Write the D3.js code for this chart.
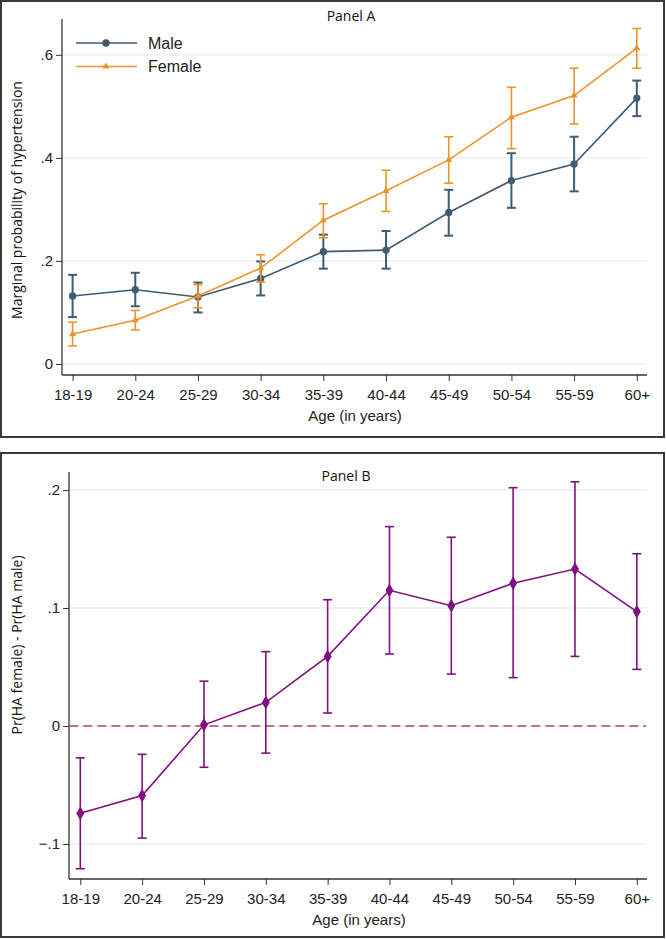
<!DOCTYPE html>
<html>
<head>
<meta charset="utf-8">
<script src="https://cdn.jsdelivr.net/npm/d3@7"></script>
<style>
  body { margin: 0; background: #fff; }
  .tick text, .narrow { font-family: 'Liberation Sans Narrow', 'Arial Narrow', 'Liberation Sans', sans-serif; font-size: 15px; fill: #222; }
  .title { font-family: 'Open Sans', sans-serif; font-size: 14px; fill: #111; }
</style>
</head>
<body>
<div id="plot"></div>
<script>
// data
const AGES = ["18-19","20-24","25-29","30-34","35-39","40-44","45-49","50-54","55-59","60+"];

const MALE     = [0.132, 0.144, 0.130, 0.166, 0.218, 0.221, 0.294, 0.356, 0.388, 0.516];
const MALE_LO  = [0.091, 0.112, 0.100, 0.133, 0.185, 0.185, 0.249, 0.303, 0.335, 0.481];
const MALE_HI  = [0.173, 0.177, 0.158, 0.199, 0.251, 0.258, 0.338, 0.409, 0.441, 0.550];

const FEMALE    = [0.058, 0.085, 0.132, 0.186, 0.279, 0.336, 0.396, 0.479, 0.521, 0.613];
const FEMALE_LO = [0.035, 0.066, 0.109, 0.159, 0.245, 0.296, 0.351, 0.418, 0.466, 0.574];
const FEMALE_HI = [0.081, 0.104, 0.154, 0.212, 0.311, 0.376, 0.441, 0.537, 0.574, 0.651];

const DIFF    = [-0.074, -0.059, 0.001, 0.020, 0.059, 0.115, 0.102, 0.121, 0.133, 0.097];
const DIFF_LO = [-0.121, -0.095, -0.035, -0.023, 0.011, 0.061, 0.044, 0.041, 0.059, 0.048];
const DIFF_HI = [-0.027, -0.024, 0.038, 0.063, 0.107, 0.169, 0.160, 0.202, 0.207, 0.146];

const TICKS_A = [0, 0.2, 0.4, 0.6];
const TICKS_B = [-0.1, 0, 0.1, 0.2];

const WIDTH = 666, HEIGHT = 939;
const C_MALE = "#3e5b74", C_FEMALE = "#f0922a", C_DIFF = "#7f117f";

const svg = d3.select("#plot").append("svg")
  .attr("width", WIDTH).attr("height", HEIGHT);

// stata style labels: .2 instead of 0.2
const fmt = d => d === 0 ? "0" : d3.format(".1f")(d).replace("0.", ".");

function rows(v, lo, hi) {
  return AGES.map((a, i) => ({ age: a, v: v[i], lo: lo[i], hi: hi[i] }));
}

function panel(o) {
  const g = svg.append("g");

  // frame around panel
  g.append("rect")
    .attr("x", o.box[0]).attr("y", o.box[1])
    .attr("width", o.box[2]).attr("height", o.box[3])
    .attr("fill", "none").attr("stroke", "#3a3a3a").attr("stroke-width", 2);

  const x = d3.scalePoint().domain(AGES).range([o.xFirst, o.xLast]);
  const y = d3.scaleLinear().domain(o.yDomain).range([o.bottom, o.top]);

  // gridlines
  g.selectAll(".grid").data(o.ticks).join("line")
    .attr("x1", o.left).attr("x2", o.right)
    .attr("y1", d => y(d)).attr("y2", d => y(d))
    .attr("stroke", "#e8f0f2").attr("stroke-width", 1.5);

  // axes
  const ya = g.append("g").attr("transform", `translate(${o.left},0)`)
    .call(d3.axisLeft(y).tickValues(o.ticks).tickFormat(fmt).tickSize(6).tickPadding(3));
  ya.select(".domain").remove();
  ya.selectAll(".tick line").attr("stroke", "#333");

  const xa = g.append("g").attr("transform", `translate(0,${o.bottom})`)
    .call(d3.axisBottom(x).tickSize(6).tickPadding(5));
  xa.select(".domain").remove();
  xa.selectAll(".tick line").attr("stroke", "#333");
  xa.selectAll(".tick text").attr("dy", "0.9em");

  g.append("line").attr("x1", o.left).attr("x2", o.left)
    .attr("y1", o.top).attr("y2", o.bottom).attr("stroke", "#333").attr("stroke-width", 1.3);
  g.append("line").attr("x1", o.left).attr("x2", o.right)
    .attr("y1", o.bottom).attr("y2", o.bottom).attr("stroke", "#333").attr("stroke-width", 1.3);

  // titles
  g.append("text").attr("class", "title").attr("x", o.titleX).attr("y", o.titleY)
    .attr("text-anchor", "middle").text(o.title);
  g.append("text").attr("class", "narrow").attr("x", o.xTitleX).attr("y", o.xTitleY)
    .attr("text-anchor", "middle").text("Age (in years)");
  g.append("text").attr("class", "title")
    .attr("transform", `translate(${o.yTitleX},${o.yTitleY}) rotate(-90)`)
    .attr("text-anchor", "middle").text(o.yTitle);

  return { g, x, y };
}

function series(p, data, color, symbol, size, errW) {
  const { g, x, y } = p;
  const sg = g.append("g");
  sg.selectAll(".bar").data(data).join("line")
    .attr("x1", d => x(d.age)).attr("x2", d => x(d.age))
    .attr("y1", d => y(d.lo)).attr("y2", d => y(d.hi))
    .attr("stroke", color).attr("stroke-width", errW);
  ["lo", "hi"].forEach(k => {
    sg.selectAll(".cap-" + k).data(data).join("line")
      .attr("x1", d => x(d.age) - 4.5).attr("x2", d => x(d.age) + 4.5)
      .attr("y1", d => y(d[k])).attr("y2", d => y(d[k]))
      .attr("stroke", color).attr("stroke-width", errW);
  });
  sg.append("path").datum(data)
    .attr("d", d3.line().x(d => x(d.age)).y(d => y(d.v)))
    .attr("fill", "none").attr("stroke", color).attr("stroke-width", 1.6);
  sg.selectAll(".pt").data(data).join("path")
    .attr("transform", d => `translate(${x(d.age)},${y(d.v)})`)
    .attr("d", d3.symbol().type(symbol).size(size))
    .attr("fill", color);
}

// Panel A
const A = panel({
  box: [1, 1, 663, 436],
  left: 62, right: 647, top: 19, bottom: 375,
  xFirst: 72.6, xLast: 636.8,
  yDomain: [-0.0214, 0.6695], ticks: TICKS_A,
  title: "Panel A", titleX: 351, titleY: 21,
  xTitleX: 355, xTitleY: 421,
  yTitle: "Marginal probability of hypertension", yTitleX: 22, yTitleY: 200
});
series(A, rows(MALE, MALE_LO, MALE_HI), C_MALE, d3.symbolCircle, 42, 2);
series(A, rows(FEMALE, FEMALE_LO, FEMALE_HI), C_FEMALE, d3.symbolTriangle, 22, 1.6);

// legend
const LEGEND = [
  { label: "Male", color: C_MALE, sym: d3.symbolCircle, size: 42 },
  { label: "Female", color: C_FEMALE, sym: d3.symbolTriangle, size: 22 }
];
const lg = A.g.append("g");
LEGEND.forEach((d, i) => {
  const ly = 43 + i * 23.5;
  lg.append("line").attr("x1", 76).attr("x2", 137).attr("y1", ly).attr("y2", ly)
    .attr("stroke", d.color).attr("stroke-width", 1.6);
  lg.append("path").attr("transform", `translate(106,${ly})`)
    .attr("d", d3.symbol().type(d.sym).size(d.size)).attr("fill", d.color);
  lg.append("text").attr("class", "narrow").attr("x", 148).attr("y", ly + 5.5)
    .style("font-size", "16px").text(d.label);
});

// Panel B
const B = panel({
  box: [1, 453, 663, 484],
  left: 69, right: 647, top: 472, bottom: 879,
  xFirst: 80.3, xLast: 636.8,
  yDomain: [-0.1297, 0.2153], ticks: TICKS_B,
  title: "Panel B", titleX: 346, titleY: 481,
  xTitleX: 359, xTitleY: 925,
  yTitle: "Pr(HA female) - Pr(HA male)", yTitleX: 22, yTitleY: 645
});
B.g.append("line")
  .attr("x1", B.x.range()[0] - 11).attr("x2", 646)
  .attr("y1", B.y(0)).attr("y2", B.y(0))
  .attr("stroke", "#b4466a").attr("stroke-width", 1.5).attr("stroke-dasharray", "9,5");
series(B, rows(DIFF, DIFF_LO, DIFF_HI), C_DIFF, d3.symbolDiamond, 55, 1.6);
</script>
</body>
</html>
